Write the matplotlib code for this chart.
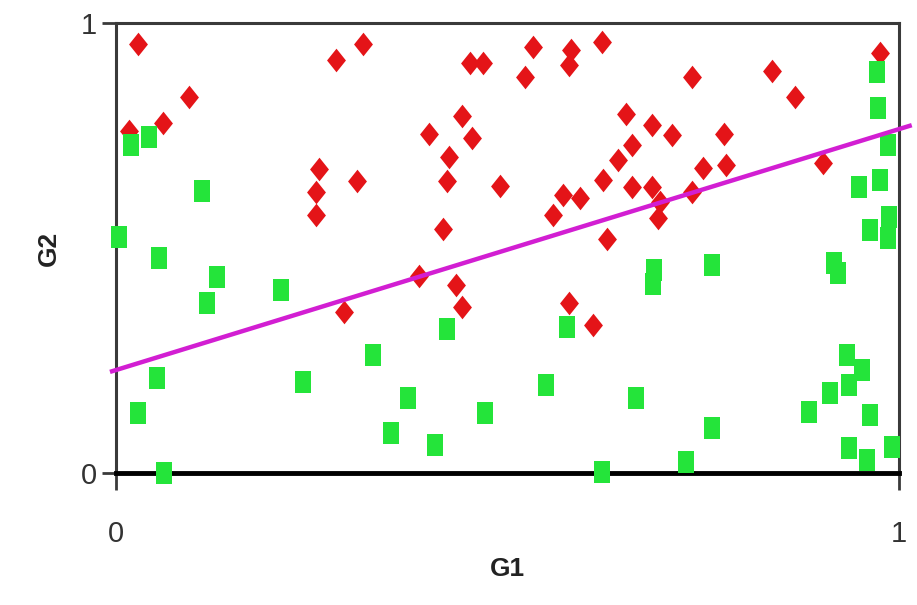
import numpy as np
import matplotlib.pyplot as plt

# red diamonds (G1, G2)
red_g1 = [0.028, 0.017, 0.060, 0.093, 0.281, 0.316, 0.259, 0.255, 0.255, 0.308,
          0.452, 0.469, 0.533, 0.522, 0.581, 0.579, 0.621, 0.442, 0.400, 0.455,
          0.425, 0.423, 0.490, 0.418, 0.558, 0.571, 0.593, 0.622, 0.641, 0.659,
          0.651, 0.659, 0.627, 0.685, 0.710, 0.685, 0.695, 0.692, 0.736, 0.777,
          0.750, 0.779, 0.736, 0.838, 0.868, 0.903, 0.976, 0.387, 0.434, 0.442,
          0.579, 0.610, 0.291]
red_g2 = [0.953, 0.760, 0.778, 0.836, 0.918, 0.953, 0.676, 0.624, 0.573, 0.649,
          0.911, 0.911, 0.947, 0.880, 0.940, 0.907, 0.958, 0.793, 0.753, 0.744,
          0.702, 0.649, 0.638, 0.542, 0.573, 0.618, 0.611, 0.651, 0.696, 0.729,
          0.798, 0.636, 0.520, 0.773, 0.751, 0.636, 0.602, 0.567, 0.880, 0.753,
          0.678, 0.684, 0.624, 0.893, 0.836, 0.689, 0.933, 0.438, 0.418, 0.369,
          0.378, 0.329, 0.358]

# green squares (G1, G2)
green_g1 = [0.019, 0.042, 0.110, 0.004, 0.055, 0.129, 0.116, 0.211, 0.052, 0.028,
            0.061, 0.239, 0.328, 0.423, 0.373, 0.352, 0.407, 0.471, 0.550, 0.576,
            0.621, 0.665, 0.688, 0.686, 0.762, 0.918, 0.922, 0.761, 0.728, 0.886,
            0.912, 0.934, 0.953, 0.937, 0.963, 0.937, 0.959, 0.991, 0.972, 0.973,
            0.987, 0.949, 0.976, 0.963, 0.988, 0.986]
green_g2 = [0.729, 0.747, 0.627, 0.524, 0.478, 0.436, 0.378, 0.407, 0.211, 0.133,
            0.000, 0.202, 0.262, 0.320, 0.167, 0.089, 0.062, 0.133, 0.196, 0.324,
            0.002, 0.167, 0.451, 0.420, 0.462, 0.467, 0.444, 0.100, 0.024, 0.136,
            0.178, 0.262, 0.229, 0.196, 0.129, 0.056, 0.029, 0.058, 0.891, 0.811,
            0.729, 0.636, 0.651, 0.540, 0.569, 0.522]

# fitted line
line_x = [-0.005, 1.014]
intercept = 0.229
slope = 0.535

diamond = [(0, 1), (0.8, 0), (0, -1), (-0.8, 0)]
rect = [(-0.38, -0.5), (0.38, -0.5), (0.38, 0.5), (-0.38, 0.5)]

fig = plt.figure(figsize=(9.17, 6.05), dpi=100)
ax = fig.add_axes([0.1265, 0.218, 0.8535, 0.744])

ax.plot(red_g1, red_g2, linestyle="none", marker=diamond, markersize=17,
        color="#e41418", markeredgewidth=0, clip_on=False, zorder=4)
ax.plot(green_g1, green_g2, linestyle="none", marker=rect, markersize=15.5,
        color="#24e43a", markeredgewidth=0, clip_on=False, zorder=5)

lx = np.array(line_x)
ax.plot(lx, intercept + slope * lx, color="#d21ed2", linewidth=3.2,
        clip_on=False, zorder=6)

ax.set_xlim(0, 1)
ax.set_ylim(0, 1)
ax.set_xticks([0, 1])
ax.set_yticks([0, 1])

for side in ["left", "top", "right"]:
    ax.spines[side].set_color("#3a3a3a")
    ax.spines[side].set_linewidth(2.2)
ax.spines["bottom"].set_color("black")
ax.spines["bottom"].set_linewidth(3.5)
for s in ax.spines.values():
    s.set_zorder(3)

ax.tick_params(axis="x", direction="out", length=12, width=2,
               color="#3a3a3a", pad=22, labelsize=21, labelcolor="#333333")
ax.tick_params(axis="y", direction="out", length=10, width=2,
               color="#3a3a3a", pad=4, labelsize=21, labelcolor="#333333")
for lab in ax.get_xticklabels() + ax.get_yticklabels():
    lab.set_fontfamily("Liberation Sans")

ax.set_xlabel("G1", fontsize=19, fontweight="bold", family="Liberation Sans",
              color="#222222", labelpad=6)
ax.set_ylabel("G2", fontsize=19, fontweight="bold", family="Liberation Sans",
              color="#222222", labelpad=14)

fig.savefig("out.png", dpi=100)
